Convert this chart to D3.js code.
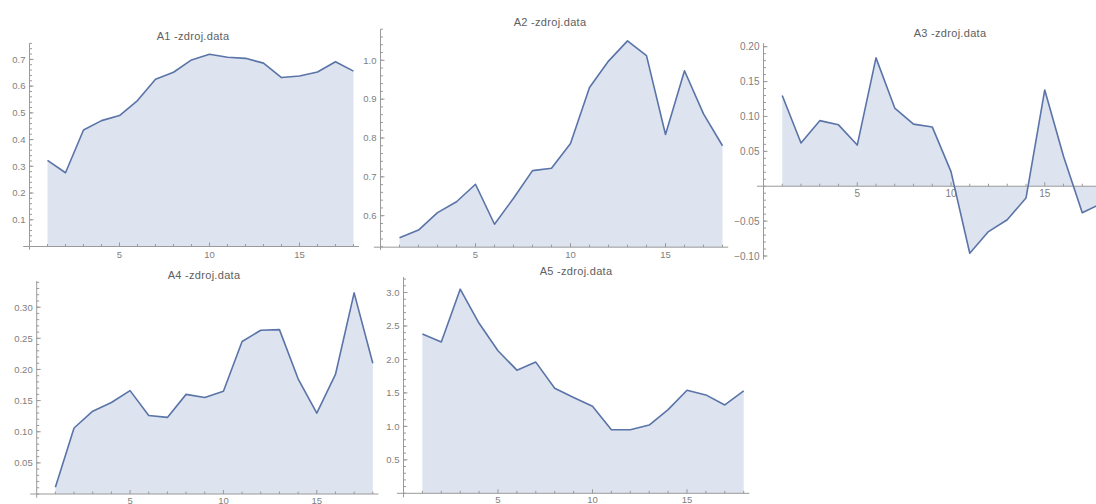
<!DOCTYPE html>
<html>
<head>
<meta charset="utf-8">
<script src="https://cdn.jsdelivr.net/npm/d3@7"></script>
<style>
  body { margin: 0; background: #fff; }
  svg { display: block; font-family: 'Liberation Sans', Arial, sans-serif; }
</style>
</head>
<body>
<div id="chart-container"></div>
<script>
// x positions shared by all five series
const steps = [1, 2, 3, 4, 5, 6, 7, 8, 9, 10, 11, 12, 13, 14, 15, 16, 17, 18]

const a1Values = [0.322, 0.276, 0.436, 0.471, 0.49, 0.546, 0.626, 0.652, 0.698, 0.719, 0.708, 0.704, 0.686, 0.632, 0.638, 0.653, 0.691, 0.656]
const a2Values = [0.543, 0.563, 0.608, 0.636, 0.681, 0.578, 0.645, 0.716, 0.722, 0.786, 0.93, 0.998, 1.05, 1.012, 0.809, 0.973, 0.862, 0.78]
const a3Values = [0.13, 0.062, 0.094, 0.088, 0.059, 0.184, 0.112, 0.089, 0.085, 0.021, -0.096, -0.065, -0.048, -0.017, 0.138, 0.043, -0.038, -0.025]
const a4Values = [0.011, 0.106, 0.133, 0.147, 0.166, 0.126, 0.123, 0.16, 0.155, 0.165, 0.245, 0.263, 0.264, 0.185, 0.13, 0.192, 0.323, 0.21]
const a5Values = [2.38, 2.26, 3.05, 2.54, 2.13, 1.84, 1.96, 1.57, 1.43, 1.3, 0.95, 0.95, 1.02, 1.25, 1.54, 1.47, 1.32, 1.53]

const titles = ['A1 -zdroj.data', 'A2 -zdroj.data', 'A3 -zdroj.data', 'A4 -zdroj.data', 'A5 -zdroj.data']

const xTickLabels = [5, 10, 15]
const a1YTicks = [0.1, 0.2, 0.3, 0.4, 0.5, 0.6, 0.7]
const a2YTicks = [0.6, 0.7, 0.8, 0.9, 1.0]
const a3YTicks = [-0.1, -0.05, 0.05, 0.1, 0.15, 0.2]
const a4YTicks = [0.05, 0.1, 0.15, 0.2, 0.25, 0.3]
const a5YTicks = [0.5, 1.0, 1.5, 2.0, 2.5, 3.0]

const lineColor = '#5a74a8'
const fillColor = '#dde3ef'
const axisColor = '#9a9a9a'
const labelColor = '#808080'

const width = 1096
const height = 504

// layout of each panel (pixel placement only)
const panels = [
  { title: titles[0], values: a1Values, yTicks: a1YTicks, fmt: '.1f',
    xr: [29.5, 353.5], yd: [0, 0.7], yr: [246.5, 59.4], base: 0, yTop: 0.76, yBot: -0.012,
    minor: 0.02, titlePos: [193, 36], font: 9.5, xLabelDy: 11 },
  { title: titles[1], values: a2Values, yTicks: a2YTicks, fmt: '.1f',
    xr: [380.5, 722.5], yd: [0.6, 1.0], yr: [215.7, 60.3], base: 0.519, yTop: 1.08, yBot: 0.512,
    minor: 0.02, titlePos: [550, 22.5], font: 9.5, xLabelDy: 11 },
  { title: titles[2], values: a3Values, yTicks: a3YTicks, fmt: '.2f',
    xr: [763.5, 1101], yd: [-0.1, 0.2], yr: [256, 46.7], base: 0, yTop: 0.205, yBot: -0.105,
    minor: 0.01, titlePos: [950, 33], font: 10, xLabelDy: 11 },
  { title: titles[3], values: a4Values, yTicks: a4YTicks, fmt: '.2f',
    xr: [36.7, 372.8], yd: [0, 0.3], yr: [494, 307.2], base: 0, yTop: 0.342, yBot: -0.006,
    minor: 0.01, titlePos: [204, 275], font: 9.5, xLabelDy: 9.5 },
  { title: titles[4], values: a5Values, yTicks: a5YTicks, fmt: '.1f',
    xr: [403.5, 743.7], yd: [0, 3.0], yr: [493.3, 292.5], base: 0, yTop: 3.23, yBot: -0.06,
    minor: 0.1, titlePos: [576, 271], font: 9.5, xLabelDy: 9.5 },
]

const svg = d3
  .select('#chart-container')
  .append('svg')
  .attr('width', width)
  .attr('height', height)
  .attr('viewBox', `0 0 ${width} ${height}`)

svg.append('rect').attr('width', width).attr('height', height).attr('fill', '#fff')

panels.forEach(p => {
  const x = d3.scaleLinear().domain([0, 18]).range(p.xr)
  const y = d3.scaleLinear().domain(p.yd).range(p.yr)
  const data = steps.map((s, i) => ({ s, v: p.values[i] }))

  const g = svg.append('g')

  // filling down to the axis
  g.append('path')
    .datum(data)
    .attr('fill', fillColor)
    .attr('d', d3.area().x(d => x(d.s)).y0(y(p.base)).y1(d => y(d.v)))

  // x axis line
  g.append('line')
    .attr('x1', x(-0.35)).attr('x2', x(18.3))
    .attr('y1', y(p.base)).attr('y2', y(p.base))
    .attr('stroke', axisColor)
    .attr('stroke-width', 1)

  // y axis line
  g.append('line')
    .attr('x1', x(0)).attr('x2', x(0))
    .attr('y1', y(p.yTop)).attr('y2', y(p.yBot))
    .attr('stroke', axisColor)
    .attr('stroke-width', 1)

  // x ticks: every integer, major every 5
  g.selectAll('.xtick')
    .data(d3.range(1, 19))
    .join('line')
    .attr('x1', d => x(d)).attr('x2', d => x(d))
    .attr('y1', y(p.base))
    .attr('y2', d => y(p.base) - (d % 5 === 0 ? 4 : 2.5))
    .attr('stroke', axisColor)

  g.selectAll('.xlabel')
    .data(xTickLabels)
    .join('text')
    .attr('x', d => x(d))
    .attr('y', y(p.base) + p.xLabelDy)
    .attr('text-anchor', 'middle')
    .attr('font-size', p.font)
    .attr('fill', labelColor)
    .text(d => d)

  // y minor ticks
  const nMin = Math.ceil(p.yBot / p.minor - 1e-6)
  const nMax = Math.floor(p.yTop / p.minor + 1e-6)
  const minorVals = d3.range(nMin, nMax + 1).map(k => k * p.minor)
  g.selectAll('.yminor')
    .data(minorVals)
    .join('line')
    .attr('x1', x(0)).attr('x2', x(0) + 2.5)
    .attr('y1', d => y(d)).attr('y2', d => y(d))
    .attr('stroke', axisColor)

  g.selectAll('.ymajor')
    .data(p.yTicks)
    .join('line')
    .attr('x1', x(0)).attr('x2', x(0) + 4)
    .attr('y1', d => y(d)).attr('y2', d => y(d))
    .attr('stroke', axisColor)

  g.selectAll('.ylabel')
    .data(p.yTicks)
    .join('text')
    .attr('x', x(0) - 4)
    .attr('y', d => y(d))
    .attr('dy', '0.35em')
    .attr('text-anchor', 'end')
    .attr('font-size', p.font)
    .attr('fill', labelColor)
    .text(d => d3.format(p.fmt)(d).replace('-', '\u2212'))

  // the series line
  g.append('path')
    .datum(data)
    .attr('fill', 'none')
    .attr('stroke', lineColor)
    .attr('stroke-width', 1.6)
    .attr('stroke-linejoin', 'round')
    .attr('d', d3.line().x(d => x(d.s)).y(d => y(d.v)))

  g.append('text')
    .attr('x', p.titlePos[0])
    .attr('y', p.titlePos[1])
    .attr('dy', '0.35em')
    .attr('text-anchor', 'middle')
    .attr('font-size', 11)
    .attr('letter-spacing', 0.3)
    .attr('fill', '#606060')
    .text(p.title)
})
</script>
</body>
</html>
